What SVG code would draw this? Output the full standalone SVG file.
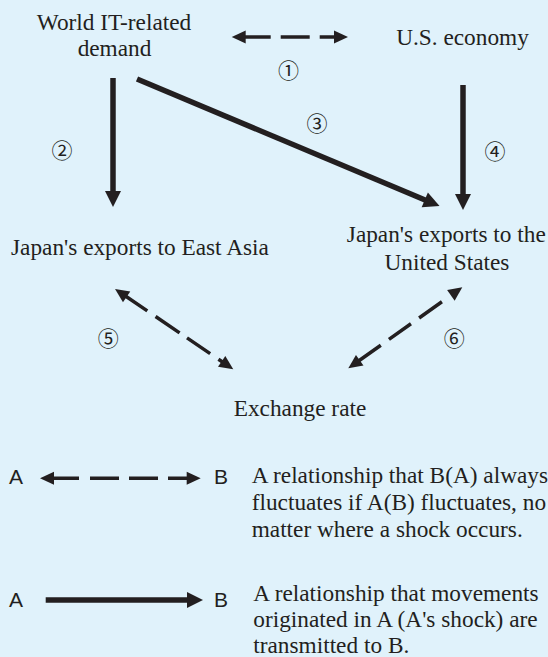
<svg xmlns="http://www.w3.org/2000/svg" width="548" height="657" viewBox="0 0 548 657">
  <defs>
    <style>
      .t { font-family: "Liberation Serif", "Times New Roman", serif; font-size: 23.3px; fill: #231f20; }
      .n { font-family: "Noto Sans CJK JP", "DejaVu Sans", sans-serif; font-size: 21px; fill: #231f20; text-anchor: middle; }
      .ab { font-family: "Liberation Sans", Arial, sans-serif; font-size: 21px; fill: #231f20; }
      .solid { stroke: #231f20; stroke-width: 5.5; fill: none; marker-end: url(#ah); }
      .dash { stroke: #231f20; stroke-width: 3.5; fill: none; marker-start: url(#dh); marker-end: url(#dh); }
      .c { text-anchor: middle; }
    </style>
    <marker id="ah" viewBox="-2 -9 18 18" refX="0" refY="0" markerWidth="18" markerHeight="18" orient="auto" markerUnits="userSpaceOnUse">
      <path d="M-1,-8 L15,0 L-1,8 Z" fill="#231f20"/>
    </marker>
    <marker id="dh" viewBox="-2 -7 16 14" refX="0" refY="0" markerWidth="16" markerHeight="14" orient="auto-start-reverse" markerUnits="userSpaceOnUse">
      <path d="M-1,-6.5 L13,0 L-1,6.5 Z" fill="#231f20"/>
    </marker>
  </defs>
  <rect x="0" y="0" width="548" height="657" fill="#e0f2fb"/>

  <g id="node-world">
    <text class="t c" x="114" y="30">World IT-related</text>
    <text class="t c" x="114.5" y="56">demand</text>
  </g>
  <g id="node-us">
    <text class="t c" x="462.5" y="44.5">U.S. economy</text>
  </g>
  <g id="node-eastasia">
    <text class="t" x="11" y="255">Japan's exports to East Asia</text>
  </g>
  <g id="node-japan-us">
    <text class="t c" x="446.3" y="241.7">Japan's exports to the</text>
    <text class="t c" x="447" y="269.5">United States</text>
  </g>
  <g id="node-exchange">
    <text class="t c" x="300" y="416">Exchange rate</text>
  </g>

  <g id="connectors">
    <line class="dash" x1="244.7" y1="37" x2="335" y2="37" stroke-dasharray="26 10 29 10 16"/>
    <line class="solid" x1="113" y1="78" x2="113" y2="192"/>
    <line class="solid" x1="137" y1="79" x2="425.7" y2="200.2"/>
    <line class="solid" x1="463" y1="85" x2="463" y2="195"/>
    <line class="dash" x1="125.8" y1="296.3" x2="222.5" y2="362" stroke-dasharray="26 10 29 9 28 10 6"/>
    <line class="dash" x1="451.7" y1="294.8" x2="358.9" y2="360.8" stroke-dasharray="0 12 28 10 27 10 27"/>
  </g>

  <g id="labels">
    <text class="n" x="288.5" y="77.5">①</text>
    <text class="n" x="62" y="158">②</text>
    <text class="n" x="317" y="131">③</text>
    <text class="n" x="495" y="159">④</text>
    <text class="n" x="108.3" y="346.3">⑤</text>
    <text class="n" x="454.3" y="346.3">⑥</text>
  </g>

  <g id="legend-dashed">
    <text class="ab" x="9" y="484.3">A</text>
    <line class="dash" x1="53" y1="478.3" x2="187.7" y2="478.3" stroke-dasharray="26 11 29 10 29 10 20"/>
    <text class="ab" x="214" y="484.3">B</text>
    <text class="t" x="251.7" y="482.5">A relationship that B(A) always</text>
    <text class="t" x="251.7" y="510">fluctuates if A(B) fluctuates, no</text>
    <text class="t" x="251.7" y="537">matter where a shock occurs.</text>
  </g>

  <g id="legend-solid">
    <text class="ab" x="9" y="606.7">A</text>
    <line class="solid" x1="45.7" y1="600" x2="188" y2="600"/>
    <text class="ab" x="214" y="606.7">B</text>
    <text class="t" x="253.3" y="601">A relationship that movements</text>
    <text class="t" x="253.3" y="627">originated in A (A's shock) are</text>
    <text class="t" x="253.3" y="653">transmitted to B.</text>
  </g>
</svg>
